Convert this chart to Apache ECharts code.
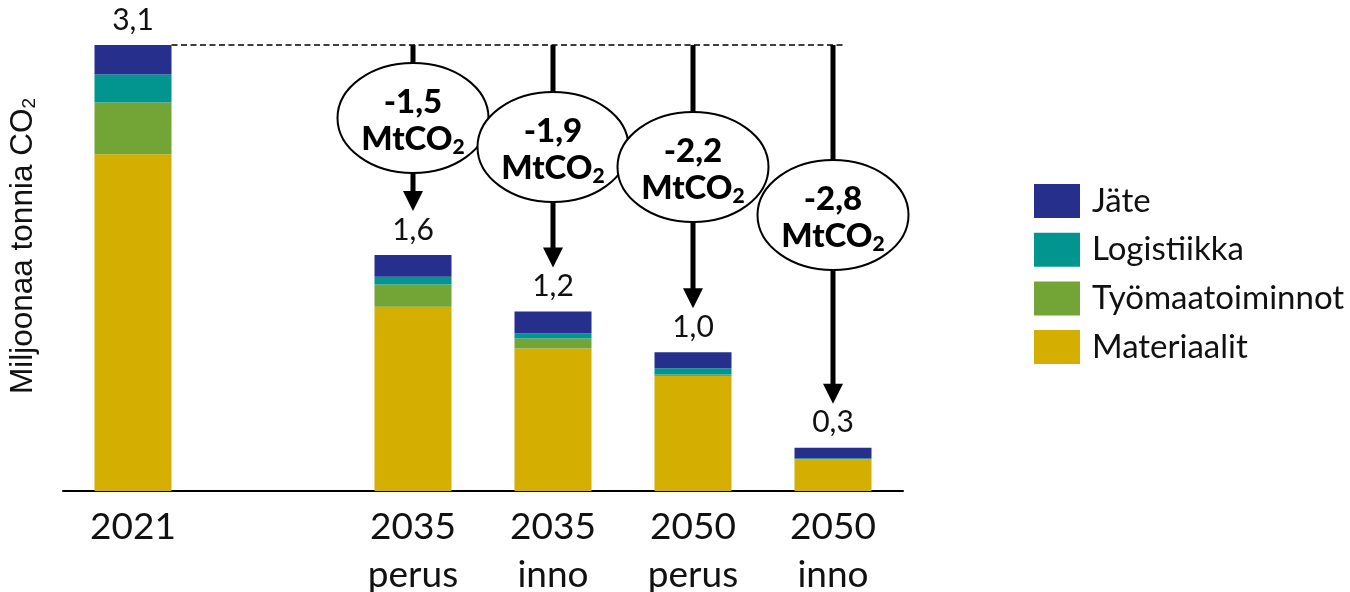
<!DOCTYPE html>
<html>
<head>
<meta charset="utf-8">
<script src="https://cdn.jsdelivr.net/npm/echarts@6/dist/echarts.min.js"></script>
<style>
  html, body { margin: 0; padding: 0; background: #fff; }
  #chart { width: 1350px; height: 592px; }
</style>
</head>
<body>
<div id="chart"></div>
<script>
// ---- data ----
const categories = ['2021', '', '2035\nperus', '2035\ninno', '2050\nperus', '2050\ninno'];
const materiaalit = [2.34, null, 1.28, 0.99, 0.80, 0.22];
const tyomaatoiminnot = [0.36, null, 0.155, 0.07, 0.01, 0.0];
const logistiikka = [0.195, null, 0.055, 0.037, 0.044, 0.007];
const jate = [0.205, null, 0.15, 0.15, 0.111, 0.074];
const reductionCats = [2, 3, 4, 5];
const reductions = [-1.5, -1.9, -2.2, -2.8];
const seriesNames = ['Materiaalit', 'Työmaatoiminnot', 'Logistiikka', 'Jäte'];
const legendOrder = ['Jäte', 'Logistiikka', 'Työmaatoiminnot', 'Materiaalit'];

// ---- layout / style ----
const colors = { 'Jäte': '#262F8C', 'Logistiikka': '#00968F', 'Työmaatoiminnot': '#72A535', 'Materiaalit': '#D4AF02' };
const bubbleOffsets = [73, 102, 122, 170];
const fmt = v => v.toFixed(1).replace('.', ',');
const totals = categories.map((c, i) => materiaalit[i] == null ? null :
  materiaalit[i] + tyomaatoiminnot[i] + logistiikka[i] + jate[i]);
const BAR_W = 77;
const FONT = 'Lato, "Noto Sans", sans-serif';

const chart = echarts.init(document.getElementById('chart'), null, { renderer: 'canvas' });

const values = [materiaalit, tyomaatoiminnot, logistiikka, jate];
const barSeries = seriesNames.map((name, k) => ({
  name: name,
  type: 'bar',
  stack: 'total',
  barWidth: BAR_W,
  itemStyle: { color: colors[name] },
  data: values[k],
  z: 2,
  label: k === 3 ? {
    show: true,
    position: 'top',
    distance: 10,
    fontFamily: FONT,
    fontSize: 30,
    color: '#111',
    formatter: p => totals[p.dataIndex] == null ? '' : fmt(totals[p.dataIndex])
  } : { show: false }
}));

const option = {
  animation: false,
  backgroundColor: '#fff',
  grid: { left: 63, right: 447, top: 45, bottom: 101, containLabel: false, outerBoundsMode: 'none' },
  legend: {
    orient: 'vertical',
    left: 1034,
    top: 184,
    padding: 0,
    itemWidth: 46,
    itemHeight: 34,
    itemGap: 14.7,
    icon: 'rect',
    data: legendOrder,
    textStyle: { fontFamily: FONT, fontSize: 33, color: '#111', padding: [0, 0, 0, 7] }
  },
  xAxis: {
    type: 'category',
    data: categories,
    axisLine: { show: true, lineStyle: { color: '#000', width: 2 } },
    axisTick: { show: false },
    axisLabel: {
      interval: 0,
      margin: 12,
      fontFamily: FONT,
      fontSize: 37,
      lineHeight: 48,
      color: '#111'
    }
  },
  yAxis: {
    type: 'value',
    min: 0,
    max: 3.1,
    axisLine: { show: false },
    axisTick: { show: false },
    axisLabel: { show: false },
    splitLine: { show: false },
    name: 'Miljoonaa tonnia CO{s|2}',
    nameLocation: 'middle',
    nameRotate: 90,
    nameGap: 24,
    nameTextStyle: {
      fontFamily: '"Liberation Sans", Arial, sans-serif',
      fontSize: 31.5,
      color: '#111',
      padding: [0, 0, 0, 44],
      rich: {
        s: { fontFamily: '"Liberation Sans", Arial, sans-serif', fontSize: 19, color: '#111', verticalAlign: 'bottom', lineHeight: 14 }
      }
    }
  },
  series: barSeries.concat([
    {
      type: 'custom',
      name: 'dash',
      z: 3,
      silent: true,
      data: [[0, totals[0]]],
      renderItem: function (params, api) {
        const p0 = api.coord([0, api.value(1)]);
        const p1 = api.coord([categories.length - 1, api.value(1)]);
        return {
          type: 'line',
          shape: { x1: p0[0] + BAR_W / 2, y1: p0[1], x2: p1[0] + 10, y2: p1[1] },
          style: { stroke: '#000', lineWidth: 1.5, lineDash: [6, 3.5] }
        };
      }
    },
    {
      type: 'custom',
      name: 'arrows',
      z: 4,
      silent: true,
      data: reductionCats.map((c, i) => [c, reductions[i], totals[c], i]),
      renderItem: function (params, api) {
        const cat = api.value(0);
        const red = api.value(1);
        const tot = api.value(2);
        const idx = api.value(3);
        const top = api.coord([cat, totals[0]]);
        const barTop = api.coord([cat, tot]);
        const x = top[0];
        const tipY = barTop[1] - 44;
        const headH = 20, headW = 10;
        const cy = top[1] + bubbleOffsets[idx];
        return {
          type: 'group',
          children: [
            {
              type: 'line',
              shape: { x1: x, y1: top[1], x2: x, y2: tipY - headH + 2 },
              style: { stroke: '#000', lineWidth: 5 }
            },
            {
              type: 'polygon',
              shape: { points: [[x - headW, tipY - headH], [x + headW, tipY - headH], [x, tipY]] },
              style: { fill: '#000' }
            },
            {
              type: 'ellipse',
              shape: { cx: x, cy: cy, rx: 75.5, ry: 55 },
              style: { fill: '#fff', stroke: '#000', lineWidth: 2 }
            },
            {
              type: 'text',
              x: x,
              y: cy + 3,
              style: {
                text: '{a|' + fmt(red) + '}\n{a|MtCO}{s|2}',
                align: 'center',
                verticalAlign: 'middle',
                rich: {
                  a: { fontFamily: FONT, fontWeight: 900, fontSize: 33, lineHeight: 37, fill: '#000' },
                  s: { fontFamily: FONT, fontWeight: 900, fontSize: 21, lineHeight: 10, verticalAlign: 'bottom', fill: '#000' }
                }
              }
            }
          ]
        };
      }
    }
  ])
};

chart.setOption(option);
</script>
</body>
</html>
